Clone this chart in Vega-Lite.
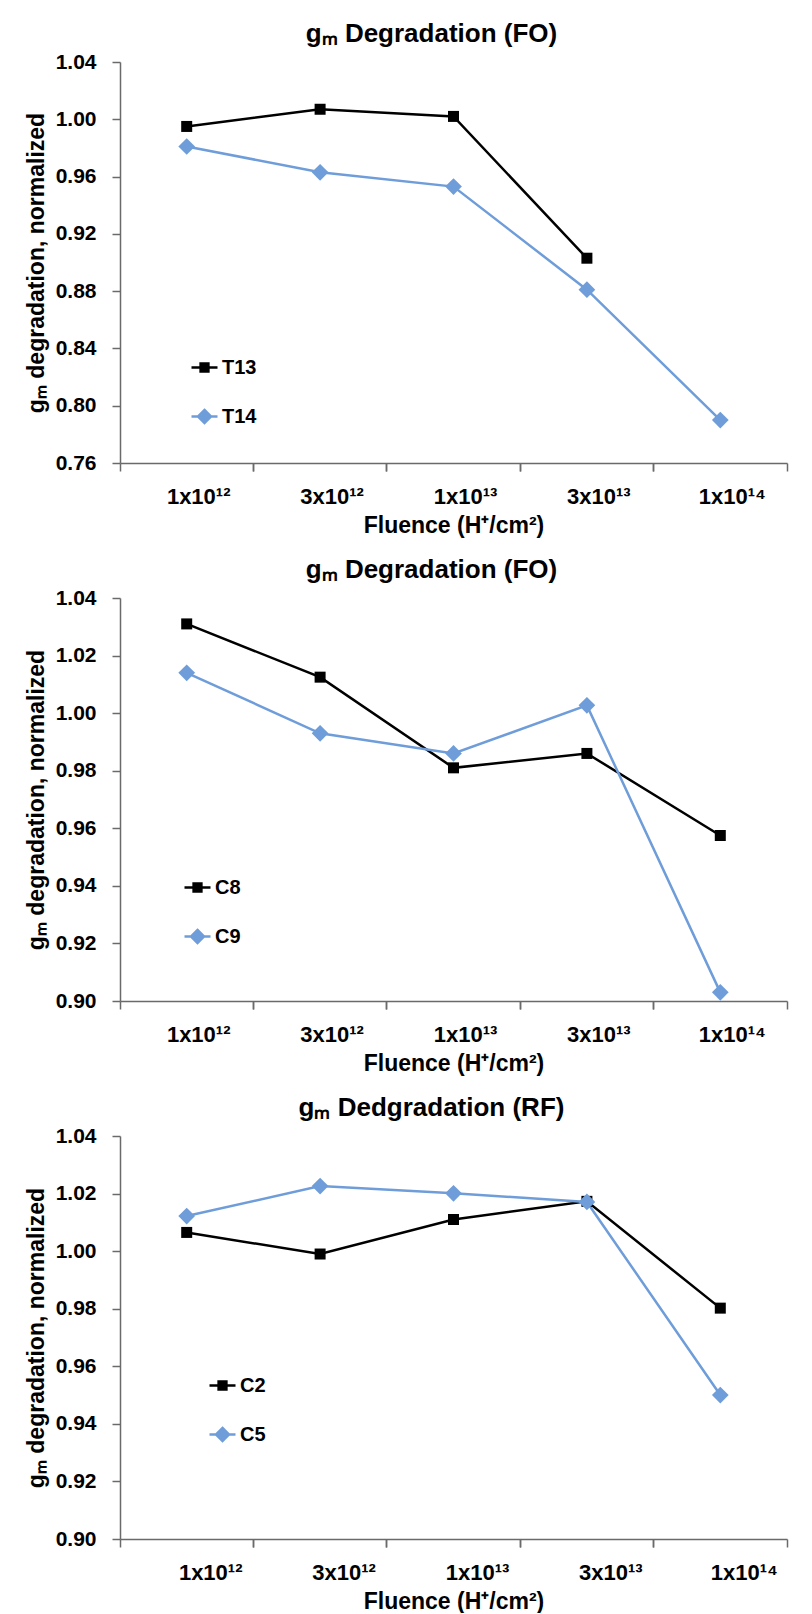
{
  "$schema": "https://vega.github.io/schema/vega-lite/v6.json",
  "padding": {"left": 25, "top": 21, "right": 5, "bottom": 0},
  "spacing": 20,
  "config": {
    "font": "Liberation Sans, Arial, sans-serif",
    "view": {"stroke": null},
    "axis": {"labelFontSize": 21, "labelFontWeight": "bold", "labelColor": "#000", "titleFontSize": 23, "titleFontWeight": "bold", "titleColor": "#000", "grid": false, "domainColor": "#6a6a6a", "tickColor": "#6a6a6a", "domainWidth": 1.5, "tickWidth": 1.5, "tickSize": 8},
    "axisX": {"labelFontSize": 22},
    "title": {"fontSize": 26, "fontWeight": "bold", "color": "#000", "dx": -22},
    "legend": {"title": null, "orient": "none", "padding": 0, "labelFontSize": 20, "labelFontWeight": "bold", "labelColor": "#000", "rowPadding": 24, "symbolSize": 676, "labelOffset": 3, "symbolStrokeWidth": 2.5}
  },
  "datasets": {
    "p1": [
      {"fluence": "1x10¹²", "series": "T13", "value": 0.995},
      {"fluence": "3x10¹²", "series": "T13", "value": 1.007},
      {"fluence": "1x10¹³", "series": "T13", "value": 1.002},
      {"fluence": "3x10¹³", "series": "T13", "value": 0.903},
      {"fluence": "1x10¹²", "series": "T14", "value": 0.981},
      {"fluence": "3x10¹²", "series": "T14", "value": 0.963},
      {"fluence": "1x10¹³", "series": "T14", "value": 0.953},
      {"fluence": "3x10¹³", "series": "T14", "value": 0.881},
      {"fluence": "1x10¹⁴", "series": "T14", "value": 0.790}
    ],
    "p2": [
      {"fluence": "1x10¹²", "series": "C8", "value": 1.031},
      {"fluence": "3x10¹²", "series": "C8", "value": 1.0125},
      {"fluence": "1x10¹³", "series": "C8", "value": 0.981},
      {"fluence": "3x10¹³", "series": "C8", "value": 0.986},
      {"fluence": "1x10¹⁴", "series": "C8", "value": 0.9575},
      {"fluence": "1x10¹²", "series": "C9", "value": 1.014},
      {"fluence": "3x10¹²", "series": "C9", "value": 0.993},
      {"fluence": "1x10¹³", "series": "C9", "value": 0.986},
      {"fluence": "3x10¹³", "series": "C9", "value": 1.0027},
      {"fluence": "1x10¹⁴", "series": "C9", "value": 0.903}
    ],
    "p3": [
      {"fluence": "1x10¹²", "series": "C2", "value": 1.0065},
      {"fluence": "3x10¹²", "series": "C2", "value": 0.999},
      {"fluence": "1x10¹³", "series": "C2", "value": 1.011},
      {"fluence": "3x10¹³", "series": "C2", "value": 1.0173},
      {"fluence": "1x10¹⁴", "series": "C2", "value": 0.9802},
      {"fluence": "1x10¹²", "series": "C5", "value": 1.0122},
      {"fluence": "3x10¹²", "series": "C5", "value": 1.0226},
      {"fluence": "1x10¹³", "series": "C5", "value": 1.0201},
      {"fluence": "3x10¹³", "series": "C5", "value": 1.0171},
      {"fluence": "1x10¹⁴", "series": "C5", "value": 0.950}
    ]
  },
  "resolve": {"scale": {"color": "independent", "shape": "independent", "x": "independent", "y": "independent"}, "legend": {"color": "independent", "shape": "independent"}},
  "vconcat": [
    {
      "title": {"text": "gₘ Degradation (FO)"},
      "width": 667, "height": 401,
      "data": {"name": "p1"},
      "resolve": {"axis": {"x": "independent"}},
      "layer": [
        {
          "mark": {"type": "line", "strokeWidth": 2.5},
          "encoding": {
            "x": {"field": "fluence", "type": "ordinal", "sort": ["1x10¹²", "3x10¹²", "1x10¹³", "3x10¹³", "1x10¹⁴"], "scale": {"type": "band", "paddingInner": 0, "paddingOuter": 0, "domain": ["1x10¹²", "3x10¹²", "1x10¹³", "3x10¹³", "1x10¹⁴"]},
              "axis": {"orient": "bottom", "bandPosition": 0, "labelAngle": 0, "labelOffset": 12, "labelPadding": 15, "title": "Fluence (H⁺/cm²)", "titlePadding": 7}},
            "y": {"field": "value", "type": "quantitative", "scale": {"domain": [0.76, 1.04], "nice": false, "zero": false},
              "axis": {"values": [0.76, 0.8, 0.84, 0.88, 0.92, 0.96, 1.0, 1.04], "format": ".2f", "title": "gₘ degradation, normalized", "labelPadding": 16, "titlePadding": 7}},
            "color": {"field": "series", "type": "nominal", "scale": {"domain": ["T13", "T14"], "range": ["#000000", "#6F9DD9"]}, "legend": {"legendX": 70, "legendY": 291}}
          }
        },
        {
          "transform": [{"filter": "datum.series === 'T13'"}],
          "mark": {"type": "point", "filled": true, "opacity": 1, "shape": "square", "size": 121},
          "encoding": {
            "x": {"field": "fluence", "type": "ordinal", "sort": ["1x10¹²", "3x10¹²", "1x10¹³", "3x10¹³", "1x10¹⁴"],
              "axis": {"orient": "bottom", "bandPosition": 1, "labels": false, "domain": false, "title": null}},
            "y": {"field": "value", "type": "quantitative"},
            "color": {"field": "series", "type": "nominal"}
          }
        },
        {
          "transform": [{"filter": "datum.series === 'T14'"}],
          "mark": {"type": "point", "filled": true, "opacity": 1, "shape": "diamond", "size": 280},
          "encoding": {
            "x": {"field": "fluence", "type": "ordinal", "axis": null},
            "y": {"field": "value", "type": "quantitative"},
            "color": {"field": "series", "type": "nominal"}
          }
        },
        {
          "transform": [{"filter": "false"}],
          "mark": {"type": "point", "filled": false, "opacity": 1, "strokeWidth": 2.5},
          "encoding": {
            "color": {"field": "series", "type": "nominal"},
            "shape": {"field": "series", "type": "nominal", "scale": {"domain": ["T13", "T14"], "range": ["M-1,0H1M-0.3,-0.3H0.3V0.3H-0.3ZM-0.1,-0.1H0.1V0.1H-0.1Z", "M-1,0H1M0,-0.5V0.5M0,-0.5L0.5,0L0,0.5L-0.5,0ZM0,-0.25L0.25,0L0,0.25L-0.25,0Z"]}, "legend": {"legendX": 70, "legendY": 291}}
          }
        }
      ]
    },
    {
      "title": {"text": "gₘ Degradation (FO)"},
      "width": 667, "height": 403,
      "data": {"name": "p2"},
      "resolve": {"axis": {"x": "independent"}},
      "layer": [
        {
          "mark": {"type": "line", "strokeWidth": 2.5},
          "encoding": {
            "x": {"field": "fluence", "type": "ordinal", "sort": ["1x10¹²", "3x10¹²", "1x10¹³", "3x10¹³", "1x10¹⁴"], "scale": {"type": "band", "paddingInner": 0, "paddingOuter": 0, "domain": ["1x10¹²", "3x10¹²", "1x10¹³", "3x10¹³", "1x10¹⁴"]},
              "axis": {"orient": "bottom", "bandPosition": 0, "labelAngle": 0, "labelOffset": 12, "labelPadding": 15, "title": "Fluence (H⁺/cm²)", "titlePadding": 7}},
            "y": {"field": "value", "type": "quantitative", "scale": {"domain": [0.9, 1.04], "nice": false, "zero": false},
              "axis": {"values": [0.9, 0.92, 0.94, 0.96, 0.98, 1.0, 1.02, 1.04], "format": ".2f", "title": "gₘ degradation, normalized", "labelPadding": 16, "titlePadding": 7}},
            "color": {"field": "series", "type": "nominal", "scale": {"domain": ["C8", "C9"], "range": ["#000000", "#6F9DD9"]}, "legend": {"legendX": 63, "legendY": 275}}
          }
        },
        {
          "transform": [{"filter": "datum.series === 'C8'"}],
          "mark": {"type": "point", "filled": true, "opacity": 1, "shape": "square", "size": 121},
          "encoding": {
            "x": {"field": "fluence", "type": "ordinal", "sort": ["1x10¹²", "3x10¹²", "1x10¹³", "3x10¹³", "1x10¹⁴"],
              "axis": {"orient": "bottom", "bandPosition": 1, "labels": false, "domain": false, "title": null}},
            "y": {"field": "value", "type": "quantitative"},
            "color": {"field": "series", "type": "nominal"}
          }
        },
        {
          "transform": [{"filter": "datum.series === 'C9'"}],
          "mark": {"type": "point", "filled": true, "opacity": 1, "shape": "diamond", "size": 280},
          "encoding": {
            "x": {"field": "fluence", "type": "ordinal", "axis": null},
            "y": {"field": "value", "type": "quantitative"},
            "color": {"field": "series", "type": "nominal"}
          }
        },
        {
          "transform": [{"filter": "false"}],
          "mark": {"type": "point", "filled": false, "opacity": 1, "strokeWidth": 2.5},
          "encoding": {
            "color": {"field": "series", "type": "nominal"},
            "shape": {"field": "series", "type": "nominal", "scale": {"domain": ["C8", "C9"], "range": ["M-1,0H1M-0.3,-0.3H0.3V0.3H-0.3ZM-0.1,-0.1H0.1V0.1H-0.1Z", "M-1,0H1M0,-0.5V0.5M0,-0.5L0.5,0L0,0.5L-0.5,0ZM0,-0.25L0.25,0L0,0.25L-0.25,0Z"]}, "legend": {"legendX": 63, "legendY": 275}}
          }
        }
      ]
    },
    {
      "title": {"text": "gₘ Dedgradation (RF)"},
      "width": 667, "height": 403,
      "data": {"name": "p3"},
      "resolve": {"axis": {"x": "independent"}},
      "layer": [
        {
          "mark": {"type": "line", "strokeWidth": 2.5},
          "encoding": {
            "x": {"field": "fluence", "type": "ordinal", "sort": ["1x10¹²", "3x10¹²", "1x10¹³", "3x10¹³", "1x10¹⁴"], "scale": {"type": "band", "paddingInner": 0, "paddingOuter": 0, "domain": ["1x10¹²", "3x10¹²", "1x10¹³", "3x10¹³", "1x10¹⁴"]},
              "axis": {"orient": "bottom", "bandPosition": 0, "labelAngle": 0, "labelOffset": 24, "labelPadding": 15, "title": "Fluence (H⁺/cm²)", "titlePadding": 7}},
            "y": {"field": "value", "type": "quantitative", "scale": {"domain": [0.9, 1.04], "nice": false, "zero": false},
              "axis": {"values": [0.9, 0.92, 0.94, 0.96, 0.98, 1.0, 1.02, 1.04], "format": ".2f", "title": "gₘ degradation, normalized", "labelPadding": 16, "titlePadding": 7}},
            "color": {"field": "series", "type": "nominal", "scale": {"domain": ["C2", "C5"], "range": ["#000000", "#6F9DD9"]}, "legend": {"legendX": 88, "legendY": 235}}
          }
        },
        {
          "transform": [{"filter": "datum.series === 'C2'"}],
          "mark": {"type": "point", "filled": true, "opacity": 1, "shape": "square", "size": 121},
          "encoding": {
            "x": {"field": "fluence", "type": "ordinal", "sort": ["1x10¹²", "3x10¹²", "1x10¹³", "3x10¹³", "1x10¹⁴"],
              "axis": {"orient": "bottom", "bandPosition": 1, "labels": false, "domain": false, "title": null}},
            "y": {"field": "value", "type": "quantitative"},
            "color": {"field": "series", "type": "nominal"}
          }
        },
        {
          "transform": [{"filter": "datum.series === 'C5'"}],
          "mark": {"type": "point", "filled": true, "opacity": 1, "shape": "diamond", "size": 280},
          "encoding": {
            "x": {"field": "fluence", "type": "ordinal", "axis": null},
            "y": {"field": "value", "type": "quantitative"},
            "color": {"field": "series", "type": "nominal"}
          }
        },
        {
          "transform": [{"filter": "false"}],
          "mark": {"type": "point", "filled": false, "opacity": 1, "strokeWidth": 2.5},
          "encoding": {
            "color": {"field": "series", "type": "nominal"},
            "shape": {"field": "series", "type": "nominal", "scale": {"domain": ["C2", "C5"], "range": ["M-1,0H1M-0.3,-0.3H0.3V0.3H-0.3ZM-0.1,-0.1H0.1V0.1H-0.1Z", "M-1,0H1M0,-0.5V0.5M0,-0.5L0.5,0L0,0.5L-0.5,0ZM0,-0.25L0.25,0L0,0.25L-0.25,0Z"]}, "legend": {"legendX": 88, "legendY": 235}}
          }
        }
      ]
    }
  ]
}
